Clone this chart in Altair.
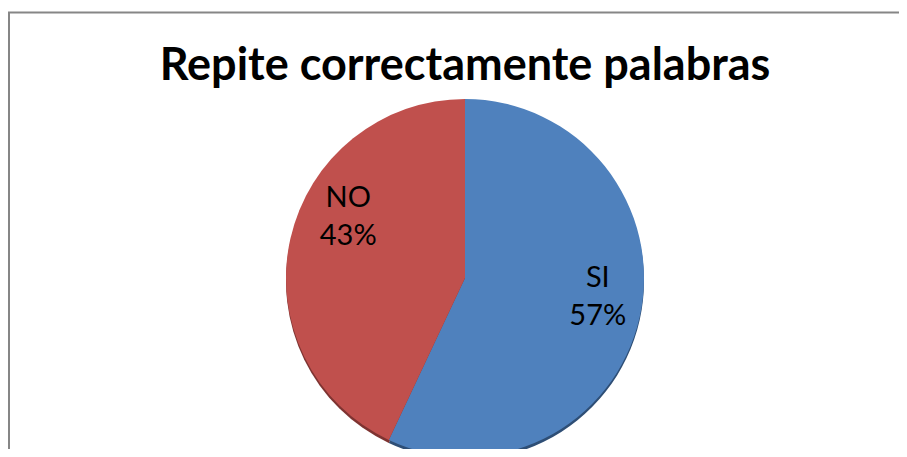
import altair as alt
import pandas as pd
import math

titulo = "Repite correctamente palabras"
categorias = ["SI", "NO"]
porcentajes = [57, 43]
etiquetas = ["SI\n57%", "NO\n43%"]
colores = ["#4F81BD", "#C0504D"]
colores_borde = ["#2E4E75", "#7E3331"]

df = pd.DataFrame({"categoria": categorias, "valor": porcentajes, "etiqueta": etiquetas})

CX, CY, R = 457, 270, 179
escala_theta = alt.Scale(domain=[0, 100], range=[0, 2 * math.pi])

base = alt.Chart(df).transform_window(
    fin="sum(valor)",
    sort=[alt.SortField("categoria", order="descending")],
    frame=[None, 0],
).transform_calculate(
    inicio="datum.fin - datum.valor",
    medio="datum.fin - datum.valor / 2",
)

sombra = base.mark_arc(radius=R).encode(
    theta=alt.Theta("inicio:Q", scale=escala_theta), theta2="fin:Q",
    x=alt.value(CX), y=alt.value(CY + 3),
    fill=alt.Fill("categoria:N", scale=alt.Scale(domain=categorias, range=colores_borde), legend=None),
)
pastel = base.mark_arc(radius=R).encode(
    theta=alt.Theta("inicio:Q", scale=escala_theta), theta2="fin:Q",
    x=alt.value(CX), y=alt.value(CY),
    color=alt.Color("categoria:N", scale=alt.Scale(domain=categorias, range=colores), legend=None),
)

def etiqueta(cat, dx, dy):
    return base.transform_filter(alt.datum.categoria == cat).mark_text(
        radius=133, font="Lato", fontSize=29, color="#000000", lineBreak="\n",
        lineHeight=38, align="center", baseline="middle", dx=dx, dy=dy,
    ).encode(
        theta=alt.Theta("medio:Q", scale=escala_theta),
        x=alt.value(CX), y=alt.value(CY), text="etiqueta:N",
    )

marco_df = pd.DataFrame({"titulo": [titulo]})
borde_izq = alt.Chart(marco_df).mark_rule(color="#868686", strokeWidth=2).encode(
    x=alt.value(1), y=alt.value(4), y2=alt.value(460))
borde_sup = alt.Chart(marco_df).mark_rule(color="#868686", strokeWidth=2).encode(
    x=alt.value(0), x2=alt.value(900), y=alt.value(4.5))
texto_titulo = alt.Chart(marco_df).mark_text(
    font="Lato", fontSize=45, fontWeight="bold", color="#000000",
    align="center", baseline="alphabetic",
).encode(x=alt.value(457), y=alt.value(72), text="titulo:N")

chart = alt.layer(
    borde_izq, borde_sup, sombra, pastel,
    etiqueta("SI", 3, -29), etiqueta("NO", 13, -51), texto_titulo,
).resolve_scale(color="independent", fill="independent").properties(
    width=891, height=441,
    autosize="none",
    padding=0,
).configure_view(stroke=None)

chart.save("out.html", embed_options={"renderer": "svg", "actions": False})
